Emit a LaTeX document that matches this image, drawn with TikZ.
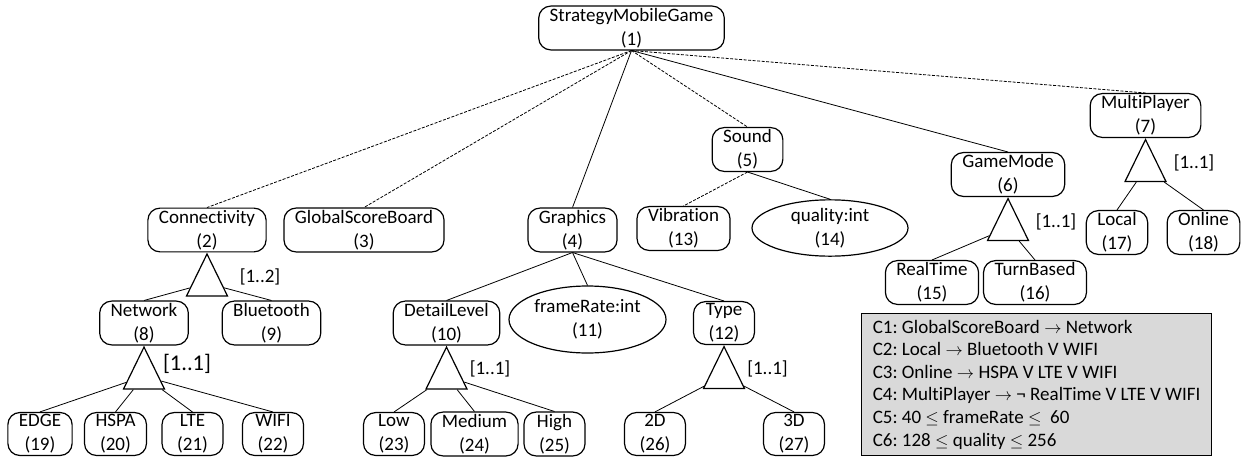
\documentclass[tikz,border=0pt]{standalone}
\usepackage{fontspec}
\setmainfont{Carlito}[Ligatures=NoCommon]
\usetikzlibrary{positioning,shapes}

\begin{document}
\begin{tikzpicture}[x=1pt,y=-1pt,line width=0.8pt,
  font=\fontsize{19}{24}\selectfont,
  feature/.style={draw,line width=1.2pt,rounded corners=12pt,align=center,
    inner xsep=11pt,inner ysep=2pt,minimum width=61pt},
  attr/.style={draw,line width=1.2pt,ellipse,align=center,inner sep=0pt},
  alt/.style={draw,line width=1.2pt,isosceles triangle,isosceles triangle stretches,
    shape border rotate=90,minimum width=41pt,minimum height=42pt,inner sep=0pt,anchor=apex},
  card/.style={inner sep=0pt},
  opt/.style={dash pattern=on 3pt off 1.5pt}]

  \useasboundingbox (0,0) rectangle (1242,460);

  \node[feature] (1) at (631.5,28) {StrategyMobileGame\\(1)};
  \node[feature] (2) at (207,230) {Connectivity\\(2)};
  \node[feature] (3) at (364,230) {GlobalScoreBoard\\(3)};
  \node[feature] (4) at (572.5,230) {Graphics\\(4)};
  \node[feature] (5) at (747.5,149.5) {Sound\\(5)};
  \node[feature] (6) at (1008,174.5) {GameMode\\(6)};
  \node[feature] (7) at (1145.5,115.5) {MultiPlayer\\(7)};
  \node[feature] (8) at (144,323) {Network\\(8)};
  \node[feature] (9) at (271.5,323) {Bluetooth\\(9)};
  \node[feature] (10) at (446.5,323) {DetailLevel\\(10)};
  \node[attr] (11) [minimum width=157pt,minimum height=67pt] at (587.5,319.5) {frameRate:int\\(11)};
  \node[feature] (12) at (724,323) {Type\\(12)};
  \node[feature] (13) at (683.5,228.5) {Vibration\\(13)};
  \node[attr] (14) [minimum width=156pt,minimum height=46pt] at (830,228) {quality:int\\(14)};
  \node[feature] (15) at (932,282.5) {RealTime\\(15)};
  \node[feature] (16) at (1035,282.5) {TurnBased\\(16)};
  \node[feature] (17) at (1117,232.5) {Local\\(17)};
  \node[feature] (18) at (1203.5,232.5) {Online\\(18)};
  \node[feature] (19) at (40,434) {EDGE\\(19)};
  \node[feature] (20) at (115.5,434) {HSPA\\(20)};
  \node[feature] (21) at (192.5,434) {LTE\\(21)};
  \node[feature] (22) at (273,434) {WIFI\\(22)};
  \node[feature] (23) at (394,434) {Low\\(23)};
  \node[feature] (24) at (474.5,434) {Medium\\(24)};
  \node[feature] (25) at (554.5,434) {High\\(25)};
  \node[feature] (26) at (655,434) {2D\\(26)};
  \node[feature] (27) at (794,434) {3D\\(27)};

  % groups
  \node[alt] (t2) at (2.south) {};
  \node[alt] (t6) at (6.south) {};
  \node[alt] (t7) at (7.south) {};
  \node[alt] (t8) at (8.south) {};
  \node[alt] (t10) at (10.south) {};
  \node[alt] (t12) at (12.south) {};

  \node[card] (k2) at (260,277) {[1..2]};
  \node[card] (k6) at (1056,222) {[1..1]};
  \node[card] (k7) at (1194,163) {[1..1]};
  \node[card,font=\fontsize{22.5}{26}\selectfont] (k8) at (187,364) {[1..1]};
  \node[card] (k10) at (490,369) {[1..1]};
  \node[card] (k12) at (767.5,369) {[1..1]};

  % constraints
  \node[draw,line width=1.2pt,fill=black!15,anchor=north west,inner xsep=7pt,inner ysep=4pt,
    minimum width=350pt,minimum height=142pt,align=left,
    font=\fontsize{19}{22.6}\selectfont\frenchspacing] (c) at (861,313)
    {C1: GlobalScoreBoard $\rightarrow$ Network\\
     C2: Local $\rightarrow$ Bluetooth V WIFI\\
     C3: Online $\rightarrow$ HSPA V LTE V WIFI\\
     C4: MultiPlayer $\rightarrow$ ¬ RealTime V LTE V WIFI\\
     C5: 40 $\leq$ frameRate $\leq$~ 60\\
     C6: 128 $\leq$ quality $\leq$ 256};

  \path
    (1.south) edge[opt] (2.north)
              edge[opt] (3.north)
              edge (4.north)
              edge[opt] (5.north)
              edge (6.north)
              edge[opt] (7.north)
    (4.south) edge (10.north)
              edge (11.north)
              edge (12.north)
    (5.south) edge[opt] (13.north)
              edge (14.north)
    (8.north) edge (t2)
    (9.north) edge (t2)
    (15.north) edge (t6)
    (16.north) edge (t6)
    (17.north) edge (t7)
    (18.north) edge (t7)
    (19.north) edge (t8)
    (20.north) edge (t8)
    (21.north) edge (t8)
    (22.north) edge (t8)
    (23.north) edge (t10)
    (24.north) edge (t10)
    (25.north) edge (t10)
    (26.north) edge (t12)
    (27.north) edge (t12);

\end{tikzpicture}
\end{document}
